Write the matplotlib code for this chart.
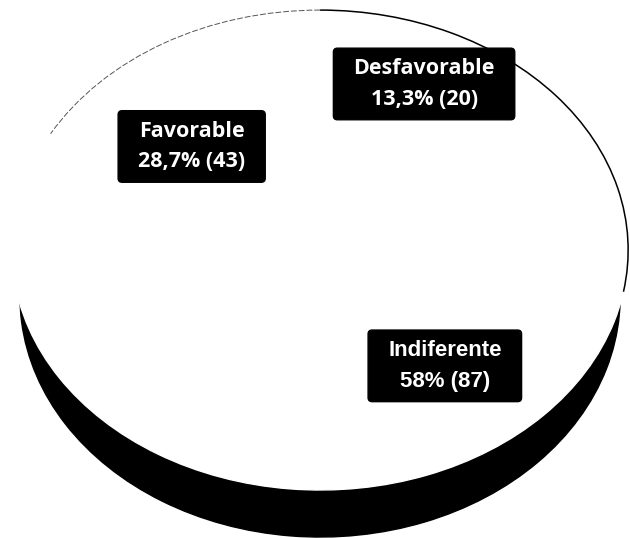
"""3D-looking pie chart: Favorable / Desfavorable / Indiferente."""

import numpy as np
import matplotlib
matplotlib.use("Agg")
import matplotlib.pyplot as plt
from matplotlib.patches import Arc, FancyBboxPatch
from matplotlib.transforms import Affine2D

categories = ["Favorable", "Desfavorable", "Indiferente"]
counts = [43, 20, 87]
percent_labels = ["28,7%", "13,3%", "58%"]

# label placement on the top face: (angle in degrees, radius fraction)
label_spots = [(134, 0.60), (64, 0.77), (-50, 0.63)]
label_fonts = ["Open Sans", "Open Sans", "Liberation Sans"]
label_sizes = [15.5, 15.5, 16]

DEPTH = 0.196  # thickness of the pie side, in y units
SIDE_SQUEEZE = 300 / 308  # bottom disk a little narrower than the top

fig = plt.figure(figsize=(6.3, 5.38), dpi=100)
ax = fig.add_axes([0, 0, 1, 1])

# Side / shadow of the pie (black, shifted down)
side, _ = ax.pie(
    counts,
    startangle=186,
    counterclock=False,
    center=(0, -DEPTH),
    colors=["black"] * len(counts),
    wedgeprops={"linewidth": 1, "edgecolor": "black"},
)
for w in side:
    w.set_transform(Affine2D().scale(SIDE_SQUEEZE, 1) + ax.transData)

# Top face (white wedges, no visible borders)
wedges, _ = ax.pie(
    counts,
    startangle=186,
    counterclock=False,
    colors=["white"] * len(counts),
    wedgeprops={"linewidth": 1, "edgecolor": "white"},
)

# Rim outline: faint on the upper left, solid on the upper right
ax.add_patch(Arc((0, 0), 2, 2, theta1=90, theta2=151,
                 color="#555555", lw=0.7, ls=(0, (6, 2))))
ax.add_patch(Arc((0, 0), 2, 2, theta1=-10, theta2=90, color="black", lw=1.1))

ax.set_aspect("auto")
ax.set_xlim(-1.039, 1.006)
ax.set_ylim(-1.2, 1.042)
ax.axis("off")

texts = []
for name, count, pct, (ang, r), fam, fs in zip(
    categories, counts, percent_labels, label_spots, label_fonts, label_sizes
):
    x = r * np.cos(np.radians(ang))
    y = r * np.sin(np.radians(ang))
    t = ax.text(
        x, y, f"{name}\n{pct} ({count})",
        ha="center", va="center", color="white",
        fontsize=fs, fontweight="bold", family=fam,
        linespacing=1.6, zorder=5,
    )
    texts.append(t)

# Black label boxes, sized from the text extent plus fixed padding
fig.canvas.draw()
renderer = fig.canvas.get_renderer()
for t in texts:
    bb = t.get_window_extent(renderer)
    pad_x, pad_y = 20, 10
    box = FancyBboxPatch(
        (bb.x0 - pad_x, bb.y0 - pad_y),
        bb.width + 2 * pad_x,
        bb.height + 2 * pad_y,
        boxstyle="round,pad=0,rounding_size=4",
        transform=None,
        facecolor="black",
        edgecolor="black",
        zorder=4,
    )
    ax.add_artist(box)

fig.savefig("out.png", dpi=100, facecolor="white")
